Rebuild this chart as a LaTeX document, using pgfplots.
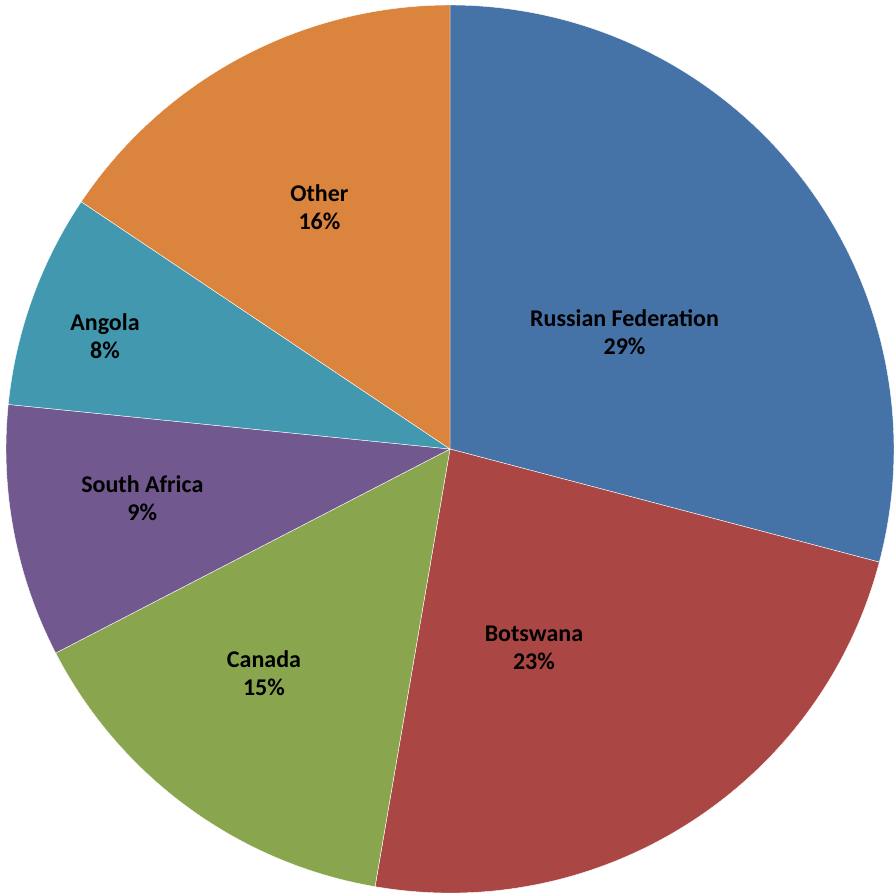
\documentclass[border=0pt]{standalone}
\usepackage{pgfplots}
\usepackage{pgfplotstable}
\pgfplotsset{compat=1.18}
\usepackage{fontspec}
\setmainfont{Carlito}
\definecolor{c1}{HTML}{4572A7}
\definecolor{c2}{HTML}{AA4643}
\definecolor{c3}{HTML}{89A54E}
\definecolor{c4}{HTML}{71588F}
\definecolor{c5}{HTML}{4198AF}
\definecolor{c6}{HTML}{DB843D}
\pgfplotstableread[col sep=comma]{
name,value,pct,lx,ly,col
Russian Federation,29.1,29,0.393,0.263,c1
Botswana,23.6,23,0.189,-0.447,c2
Canada,14.7,15,-0.419,-0.504,c3
South Africa,9.2,9,-0.693,-0.110,c4
Angola,7.8,8,-0.777,0.255,c5
Other,15.6,16,-0.294,0.544,c6
}\piedata
\begin{document}
\begin{tikzpicture}
\begin{axis}[
  scale only axis,
  x=222pt, y=222pt,
  xmin=-1.0135, xmax=1.0, ymin=-0.998, ymax=1.0113,
  hide axis, clip=false,
]
\pgfplotsextra{%
  \gdef\cum{0}%
  \foreach \i in {0,...,5}{%
    \pgfplotstablegetelem{\i}{value}\of\piedata \let\v\pgfplotsretval
    \pgfplotstablegetelem{\i}{col}\of\piedata \let\c\pgfplotsretval
    \pgfmathsetmacro\as{90-3.6*\cum}%
    \pgfmathsetmacro\ae{90-3.6*(\cum+\v)}%
    \fill[overlay, fill=\c, draw=white, line width=0.2pt] (axis cs:0,0) -- (axis cs:{cos(\as)},{sin(\as)}) arc[start angle=\as, end angle=\ae, radius=222pt] -- cycle;
    \pgfmathsetmacro\nc{\cum+\v}\xdef\cum{\nc}%
  }%
  \foreach \i in {0,...,5}{%
    \pgfplotstablegetelem{\i}{name}\of\piedata \let\n\pgfplotsretval
    \pgfplotstablegetelem{\i}{pct}\of\piedata \let\p\pgfplotsretval
    \pgfplotstablegetelem{\i}{lx}\of\piedata \let\lx\pgfplotsretval
    \pgfplotstablegetelem{\i}{ly}\of\piedata \let\ly\pgfplotsretval
    \node[align=center, font=\fontsize{12}{14}\selectfont\bfseries, text=black] at (axis cs:\lx,\ly) {\n\\\p\%};
  }%
}
\end{axis}
\pgfresetboundingbox
\path (current axis.south west) rectangle (current axis.north east);
\end{tikzpicture}
\end{document}
